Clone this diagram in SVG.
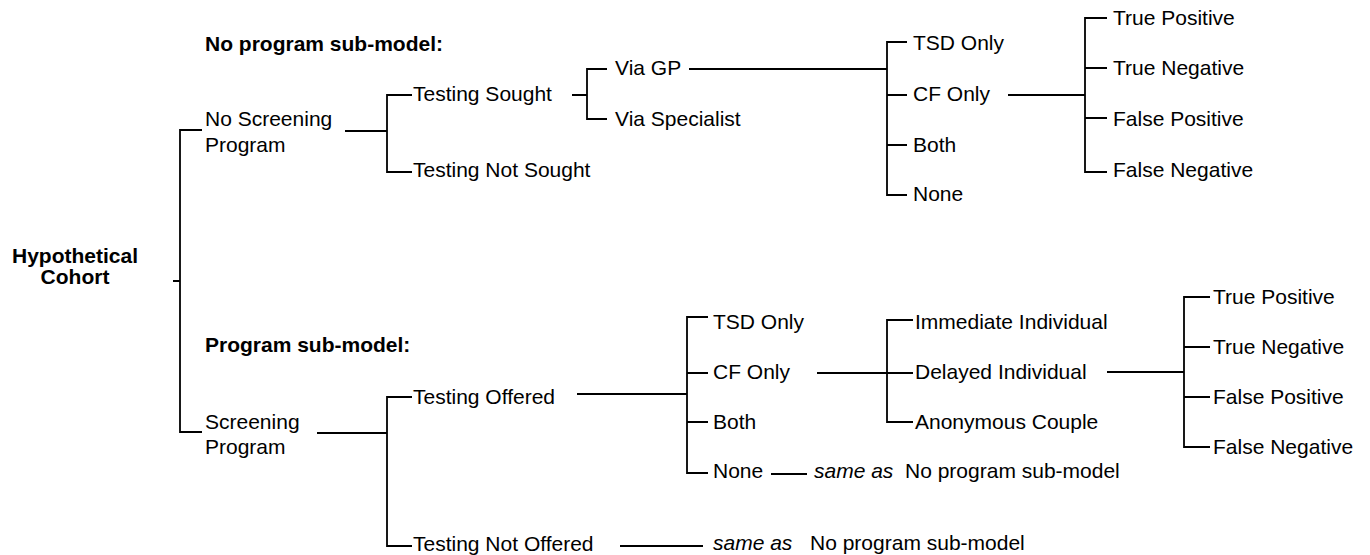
<svg xmlns="http://www.w3.org/2000/svg" width="1370" height="555" viewBox="0 0 1370 555">
<style>
text{font-family:"Liberation Sans",Arial,sans-serif;font-size:21px;fill:#000}
.b{font-weight:bold}
.i{font-style:italic}
.c{fill:none;stroke:#000;stroke-width:1.8}
</style>
<rect width="1370" height="555" fill="#fff"/>
<g id="connectors" class="c">
<path d="M173,281 H180 M202,130 H180 V432 H202"/>
<path d="M345,131 H387 M412,95 H387 V172 H412"/>
<path d="M572,95 H587 M607,69 H587 V119 H607"/>
<path d="M689,69 H887 M907,42 H887 V195 H907 M887,95 H907 M887,145 H907"/>
<path d="M1008,95 H1085 M1107,18 H1085 V172 H1107 M1085,68 H1107 M1085,118 H1107"/>
<path d="M317,433 H387 M412,397 H387 V546 H412"/>
<path d="M577,394 H687 M708,317 H687 V473 H708 M687,373 H708 M687,422 H708"/>
<path d="M771,474 H807"/>
<path d="M817,373 H887 M913,320 H887 V422 H913 M887,373 H913"/>
<path d="M1107,372 H1184 M1210,297 H1184 V447 H1210 M1184,347 H1210 M1184,397 H1210"/>
<path d="M620,546 H703"/>
</g>
<g id="root"><text class="b" x="75" y="263" text-anchor="middle">Hypothetical</text><text class="b" x="75" y="284" text-anchor="middle">Cohort</text></g>
<g id="title-top"><text class="b" x="205" y="51">No program sub-model:</text></g>
<g id="title-bottom"><text class="b" x="205" y="352">Program sub-model:</text></g>
<g id="no-screening"><text x="205" y="126">No Screening</text><text x="205" y="152">Program</text></g>
<g id="testing-sought"><text x="413" y="101">Testing Sought</text></g>
<g id="testing-not-sought"><text x="413" y="177">Testing Not Sought</text></g>
<g id="via-gp"><text x="615" y="75">Via GP</text></g>
<g id="via-specialist"><text x="615" y="126">Via Specialist</text></g>
<g id="top-tsd"><text x="913" y="50">TSD Only</text></g>
<g id="top-cf"><text x="913" y="101">CF Only</text></g>
<g id="top-both"><text x="913" y="152">Both</text></g>
<g id="top-none"><text x="913" y="201">None</text></g>
<g id="top-tp"><text x="1113" y="25">True Positive</text></g>
<g id="top-tn"><text x="1113" y="75">True Negative</text></g>
<g id="top-fp"><text x="1113" y="126">False Positive</text></g>
<g id="top-fn"><text x="1113" y="177">False Negative</text></g>
<g id="screening"><text x="205" y="429">Screening</text><text x="205" y="454">Program</text></g>
<g id="testing-offered"><text x="413" y="404">Testing Offered</text></g>
<g id="testing-not-offered"><text x="413" y="551">Testing Not Offered</text></g>
<g id="bot-tsd"><text x="713" y="329">TSD Only</text></g>
<g id="bot-cf"><text x="713" y="379">CF Only</text></g>
<g id="bot-both"><text x="713" y="429">Both</text></g>
<g id="bot-none"><text x="713" y="478">None</text></g>
<g id="same-as-1"><text class="i" x="814" y="478">same as</text><text x="905" y="478">No program sub-model</text></g>
<g id="same-as-2"><text class="i" x="713" y="550">same as</text><text x="810" y="550">No program sub-model</text></g>
<g id="immediate"><text x="915" y="329">Immediate Individual</text></g>
<g id="delayed"><text x="915" y="379">Delayed Individual</text></g>
<g id="anonymous"><text x="915" y="429">Anonymous Couple</text></g>
<g id="bot-tp"><text x="1213" y="304">True Positive</text></g>
<g id="bot-tn"><text x="1213" y="354">True Negative</text></g>
<g id="bot-fp"><text x="1213" y="404">False Positive</text></g>
<g id="bot-fn"><text x="1213" y="454">False Negative</text></g>
</svg>
